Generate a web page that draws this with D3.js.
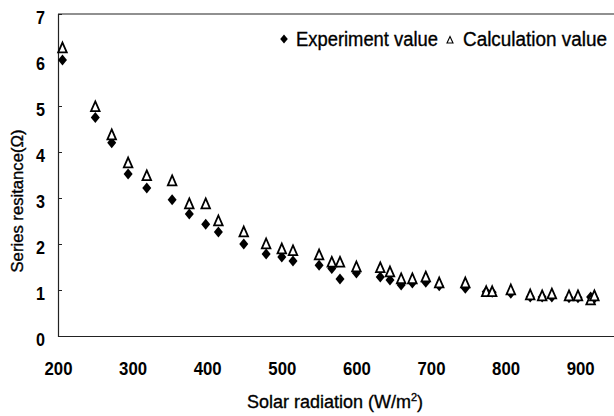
<!DOCTYPE html>
<html lang="en">
<head>
   <meta charset="UTF-8">
   <title>Series resistance vs solar radiation</title>
   <style>
      html, body {
         margin: 0;
         padding: 0;
         background: #fff;
         overflow: hidden;
      }

      text {
         font-family: "Liberation Sans", Arial, sans-serif;
         fill: #000;
      }

      .label {
         stroke: #000;
         stroke-width: 0.35;
      }

      .tick text {
         font-size: 19px;
         font-weight: bold;
      }

      .frame {
         stroke: #222;
         stroke-width: 1.2;
      }

      .exp {
         fill: #000;
      }

      .calc {
         fill: #fff;
         stroke: #000;
         stroke-width: 1.8;
      }
   </style>
   <script src="https://cdn.jsdelivr.net/npm/d3@7"></script>
</head>
<body>
   <svg id="chart" width="614" height="416"></svg>
   <script>
      // values
      const radiation = [206, 250, 272, 294, 319, 353, 376, 398, 415, 449, 479, 500, 515,
         550, 567, 578, 600, 632, 645, 660, 675, 693, 711, 746, 774, 782, 807,
         833, 849, 862, 885, 897, 914, 919]
      const experiment = [6.0, 4.75, 4.2, 3.52, 3.22, 2.96, 2.65, 2.43, 2.26, 2.0, 1.78, 1.72, 1.63,
         1.54, 1.47, 1.24, 1.37, 1.28, 1.22, 1.11, 1.15, 1.17, 1.09, 1.04, 0.96, 0.95, 0.93,
         0.85, 0.85, 0.85, 0.83, 0.83, 0.85, 0.82]
      const calculation = [6.26, 4.98, 4.37, 3.76, 3.48, 3.37, 2.87, 2.87, 2.5, 2.26, 2.0, 1.89, 1.85,
         1.76, 1.6, 1.6, 1.5, 1.48, 1.39, 1.24, 1.24, 1.28, 1.15, 1.15, 0.96, 0.96, 1.0,
         0.89, 0.87, 0.91, 0.87, 0.87, 0.78, 0.87]
      const xTicks = [200, 300, 400, 500, 600, 700, 800, 900]
      const yTicks = [0, 1, 2, 3, 4, 5, 6, 7]

      const svg = d3.select('#chart')

      const padLeft = 58, padTop = 14, padBottom = 336

      const xScale = d3.scaleLinear()
         .domain([200, 950])
         .range([padLeft, padLeft + 750 * 0.746])

      const yScale = d3.scaleLinear()
         .domain([0, 7])
         .range([padBottom, padTop])

      // frame (right side runs off the picture)
      svg.append('line').attr('class', 'frame')
         .attr('x1', padLeft).attr('x2', 614).attr('y1', padTop).attr('y2', padTop)

      // y axis
      const yAxis = d3.axisLeft(yScale)
         .tickValues(yTicks)
         .tickFormat(d3.format('d'))
         .tickSize(-4)
         .tickPadding(13)

      const yAxisGroup = svg.append('g')
         .attr('transform', `translate(${padLeft}, 0)`)
         .call(yAxis)
      yAxisGroup.select('.domain').attr('stroke', '#222').attr('stroke-width', 1.2)
      yAxisGroup.selectAll('.tick line').attr('stroke', '#222')
      yAxisGroup.selectAll('.tick text')
         .attr('dy', '0.5em')
         .attr('textLength', 9)
         .attr('lengthAdjust', 'spacingAndGlyphs')

      // x axis
      const xAxis = d3.axisBottom(xScale)
         .tickValues(xTicks)
         .tickSize(0)
         .tickPadding(26)

      const xAxisGroup = svg.append('g')
         .attr('transform', `translate(0, ${padBottom})`)
         .call(xAxis)
      xAxisGroup.select('.domain').attr('stroke', '#222').attr('stroke-width', 1.2)
      xAxisGroup.selectAll('.tick text')
         .attr('textLength', 28)
         .attr('lengthAdjust', 'spacingAndGlyphs')

      // axis titles
      svg.append('text')
         .attr('class', 'label')
         .attr('x', 335)
         .attr('y', 408)
         .attr('text-anchor', 'middle')
         .attr('font-size', 18)
         .attr('textLength', 176)
         .attr('lengthAdjust', 'spacingAndGlyphs')
         .html('Solar radiation (W/m<tspan font-size="11" dy="-7">2</tspan><tspan dy="7">)</tspan>')

      svg.append('text')
         .attr('class', 'label')
         .attr('transform', 'translate(23, 201) rotate(-90)')
         .attr('text-anchor', 'middle')
         .attr('font-size', 17)
         .attr('textLength', 143)
         .attr('lengthAdjust', 'spacingAndGlyphs')
         .text('Series resitance(Ω)')

      // markers
      const diamond = 'M0,-5.5L4.5,0L0,5.5L-4.5,0Z'
      const triangle = 'M0,-5.5L4.3,4.3L-4.3,4.3Z'

      svg.append('g').selectAll('path')
         .data(radiation)
         .enter()
         .append('path')
         .attr('class', 'exp')
         .attr('d', diamond)
         .attr('transform', (d, i) => `translate(${xScale(d)}, ${yScale(experiment[i])})`)

      svg.append('g').selectAll('path')
         .data(radiation)
         .enter()
         .append('path')
         .attr('class', 'calc')
         .attr('d', triangle)
         .attr('transform', (d, i) => `translate(${xScale(d)}, ${yScale(calculation[i])})`)

      // legend
      const legend = svg.append('g')

      legend.append('path')
         .attr('class', 'exp')
         .attr('d', 'M0,-4.5L3.8,0L0,4.5L-3.8,0Z')
         .attr('transform', 'translate(284, 39)')

      legend.append('text')
         .attr('class', 'label')
         .attr('x', 296)
         .attr('y', 46)
         .attr('font-size', 20)
         .attr('textLength', 142)
         .attr('lengthAdjust', 'spacingAndGlyphs')
         .text('Experiment value')

      legend.append('path')
         .attr('fill', '#fff')
         .attr('stroke', '#000')
         .attr('stroke-width', 1.1)
         .attr('d', 'M0,-3.5L3,3L-3,3Z')
         .attr('transform', 'translate(450, 40)')

      legend.append('text')
         .attr('class', 'label')
         .attr('x', 463)
         .attr('y', 46)
         .attr('font-size', 20)
         .attr('textLength', 144)
         .attr('lengthAdjust', 'spacingAndGlyphs')
         .text('Calculation value')
   </script>
</body>
</html>
